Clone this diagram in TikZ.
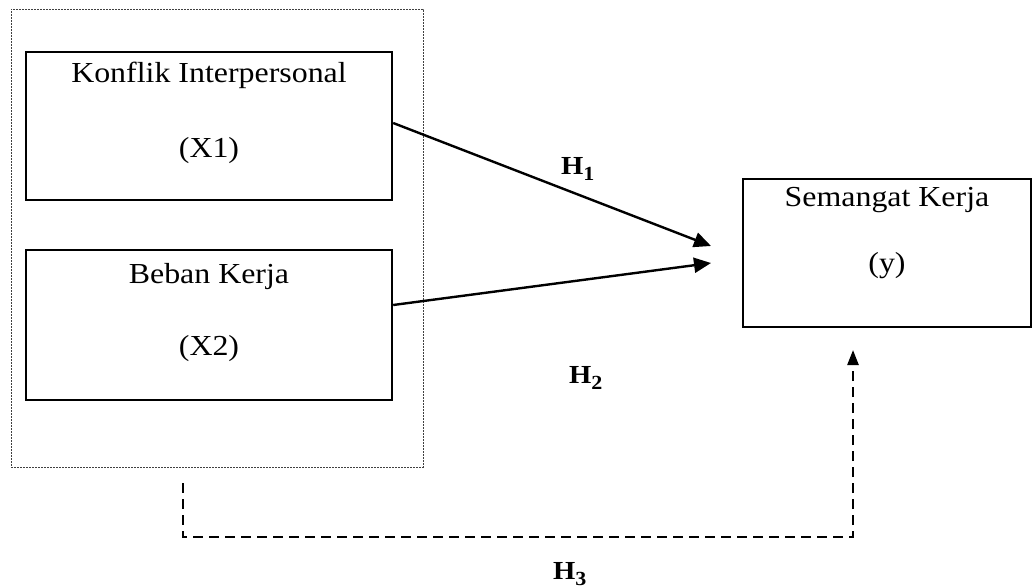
\documentclass[tikz,border=0pt]{standalone}
\usepackage{fontspec}
\setmainfont{Liberation Serif}[FakeStretch=1.1]
\usetikzlibrary{arrows.meta}
\tikzset{
  box/.style={draw=black, line width=2.4pt, rectangle, inner sep=0pt},
  group/.style={draw=black!75, line width=0.8pt, dash pattern=on 2pt off 1pt, rectangle, inner sep=0pt},
  txt/.style={anchor=base, inner sep=0pt, font=\fontsize{29}{33}\selectfont},
  hlab/.style={anchor=base west, inner sep=0pt, font=\fontsize{26}{30}\selectfont\bfseries},
  link/.style={line width=2.4pt, -{Triangle[length=17pt,width=15pt]}},
  dlink/.style={line width=2.4pt, dash pattern=on 10pt off 6pt, -{Triangle[length=15pt,width=11pt]}}
}
\newcommand{\hsub}[1]{\raisebox{-6pt}{\fontsize{20}{22}\selectfont #1}}
\begin{document}
\begin{tikzpicture}[x=1pt,y=-1pt]
\useasboundingbox (0,0) rectangle (1033,588);
\node[group, minimum width=412pt, minimum height=458pt] (grp) at (217,238) {};
\node[box, minimum width=366pt, minimum height=148pt] (b1) at (209,126) {};
\node[box, minimum width=366pt, minimum height=150pt] (b2) at (209,325) {};
\node[box, minimum width=288pt, minimum height=148pt] (b3) at (887,253) {};
\node[txt] (t1a) at (209,83) {Konflik Interpersonal};
\node[txt] (t1b) at (209,158) {(X1)};
\node[txt] (t2a) at (209,283) {Beban Kerja};
\node[txt] (t2b) at (209,355) {(X2)};
\node[txt] (t3a) at (887,207) {Semangat Kerja};
\node[txt] (t3b) at (887,272) {(y)};
\coordinate (tip1) at (711,246);
\coordinate (tip2) at (711,263);
\coordinate (d0) at (183,483);
\coordinate (d1) at (183,537);
\coordinate (d2) at (853,537);
\coordinate (tip3) at (853,350);
\draw[link] ([yshift=3pt]b1.east) -- (tip1);
\draw[link] ([yshift=20pt]b2.east) -- (tip2);
\draw[dlink] (d0) -- (d1) -- (d2) -- (tip3);
\node[hlab] (h1) at (561,175) {H\hsub{1}};
\node[hlab] (h2) at (569,383) {H\hsub{2}};
\node[hlab] (h3) at (553,579) {H\hsub{3}};
\end{tikzpicture}
\end{document}
